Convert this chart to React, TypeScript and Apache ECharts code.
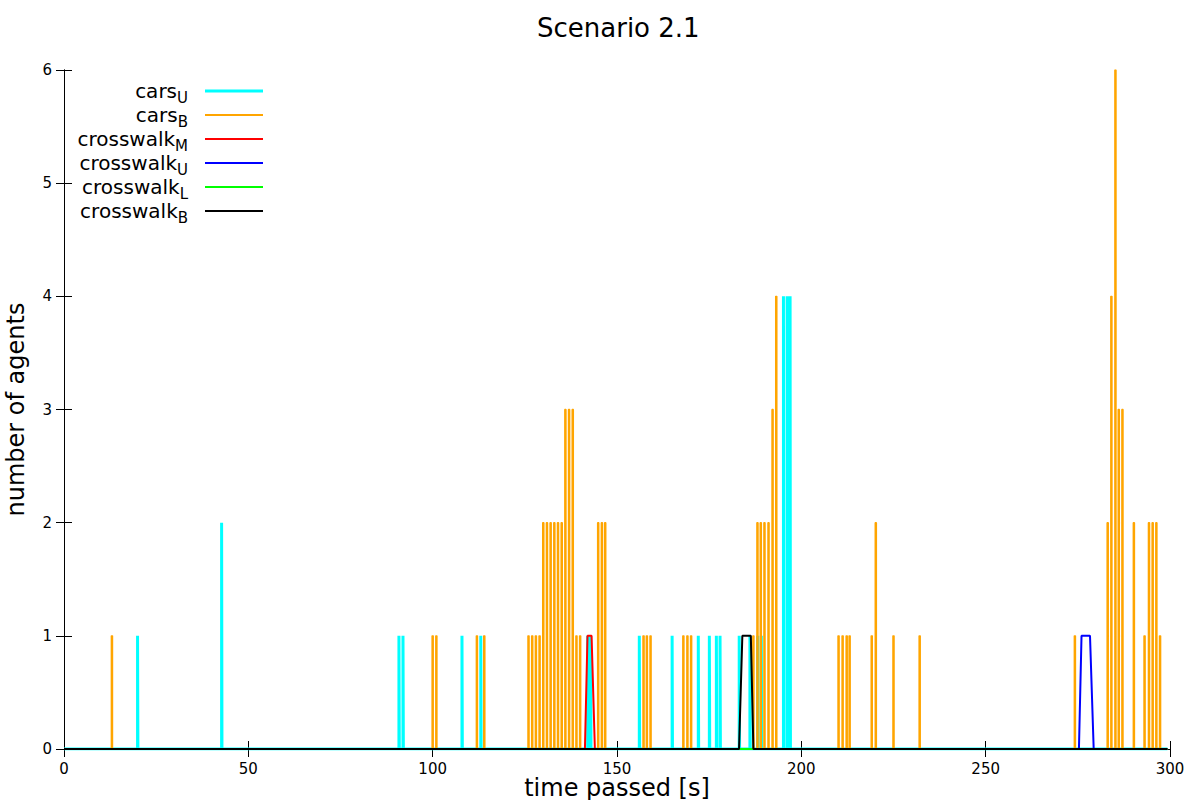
import React, { useEffect, useRef } from 'react';
import * as echarts from 'echarts';

// ---- data (time in seconds, number of agents) ----
const carsUTimes = [20, 42.8, 90.9, 92, 108, 113.1, 142.1, 142.9, 156.1, 165, 172.1, 175.1, 177, 178, 183.2, 186.1, 188.2, 189.2, 195.2, 196.2, 197.0];
const carsUValues = [1, 2, 1, 1, 1, 1, 1, 1, 1, 1, 1, 1, 1, 1, 1, 1, 1, 1, 4, 4, 4];

const carsBTimes = [13, 100, 101, 112, 114, 126, 127, 128, 129, 130, 131, 132, 133, 134, 135, 136, 137, 138, 139, 140, 144.9, 145.9, 146.8, 157.2, 158.1, 159.1, 168, 169.1, 170.1, 187, 188.1, 189, 190, 191.1, 192.2, 193.2, 210.1, 211.2, 212.3, 213.1, 219.1, 220.2, 225, 232.1, 274.2, 283.1, 284.1, 285.2, 286.1, 287.1, 290.2, 293.1, 294.3, 295.3, 296.3, 297.3];
const carsBValues = [1, 1, 1, 1, 1, 1, 1, 1, 1, 2, 2, 2, 2, 2, 2, 3, 3, 3, 1, 1, 2, 2, 2, 1, 1, 1, 1, 1, 1, 1, 2, 2, 2, 2, 3, 4, 1, 1, 1, 1, 1, 2, 1, 1, 1, 2, 4, 6, 3, 3, 2, 1, 2, 2, 2, 1];

const crosswalkMTimes = [141.3, 142, 143.1, 144];
const crosswalkMValues = [0, 1, 1, 0];
const crosswalkUTimes = [275.3, 276, 278.3, 279.3];
const crosswalkUValues = [0, 1, 1, 0];
const crosswalkLTimes: number[] = [];
const crosswalkLValues: number[] = [];
const crosswalkBTimes = [183.1, 184, 186.3, 187];
const crosswalkBValues = [0, 1, 1, 0];

const timeStart = 0;
const timeEnd = 299.3;

const xTicks = { min: 0, max: 300, interval: 50 };
const yTicks = { min: 0, max: 6, interval: 1 };

const seriesNames = ['carsU', 'carsB', 'crosswalkM', 'crosswalkU', 'crosswalkL', 'crosswalkB'];
const seriesBase = ['cars', 'cars', 'crosswalk', 'crosswalk', 'crosswalk', 'crosswalk'];
const seriesSub = ['U', 'B', 'M', 'U', 'L', 'B'];
const seriesColors = ['#00ffff', '#ffa500', '#ff0000', '#0000ff', '#00ff00', '#000000'];

const FONT = 'DejaVu Sans';

function spikes(times: number[], values: number[], half: number) {
  const pts: number[][] = [[timeStart, 0]];
  times.forEach((t, i) => {
    pts.push([t - half, 0], [t - half, values[i]], [t + half, values[i]], [t + half, 0]);
  });
  pts.push([timeEnd, 0]);
  return pts;
}

function profile(times: number[], values: number[]) {
  return [[timeStart, 0], ...times.map((t, i) => [t, values[i]]), [timeEnd, 0]];
}

export default function App() {
  const ref = useRef<HTMLDivElement>(null);
  useEffect(() => {
    if (!ref.current) return;
    const chart = echarts.init(ref.current, undefined, { renderer: 'svg' });
    const datasets = [
      spikes(carsUTimes, carsUValues, 0.05),
      spikes(carsBTimes, carsBValues, 0.17),
      profile(crosswalkMTimes, crosswalkMValues),
      profile(crosswalkUTimes, crosswalkUValues),
      profile(crosswalkLTimes, crosswalkLValues),
      profile(crosswalkBTimes, crosswalkBValues),
    ];
    const widths = [3, 1.3, 2, 2, 2, 2];
    const labelMap: Record<string, string> = {};
    seriesNames.forEach((n, i) => {
      labelMap[n] = `{m|${seriesBase[i]}}{s|${seriesSub[i]}}{g| }`;
    });
    const axisCommon = {
      axisLine: { show: true, lineStyle: { color: '#000', width: 1 } },
      axisTick: { show: true, inside: true, length: 8, lineStyle: { color: '#000', width: 1 } },
      splitLine: { show: false },
    };
    chart.setOption({
      animation: false,
      backgroundColor: '#ffffff',
      textStyle: { fontFamily: FONT },
      title: {
        text: 'Scenario 2.1',
        left: 537,
        top: 15,
        padding: 0,
        textStyle: { fontFamily: FONT, fontSize: 26, fontWeight: 'normal', color: '#000' },
      },
      grid: { left: 64, right: 30, top: 70, bottom: 51, containLabel: false, outerBoundsMode: 'none' },
      legend: {
        orient: 'vertical',
        right: 937,
        top: 81,
        padding: 0,
        align: 'right',
        itemWidth: 58,
        itemHeight: 14,
        itemGap: 0,
        selectedMode: false,
        symbolKeepAspect: true,
        data: seriesNames.map((n, i) => ({
          name: n,
          icon: i === 0 ? 'path://M0,0H58V3H0Z' : 'path://M0,0H58V2H0Z',
          itemStyle: { color: seriesColors[i] },
        })),
        formatter: (name: string) => labelMap[name],
        textStyle: {
          fontFamily: FONT,
          color: '#000',
          rich: {
            m: { fontSize: 20, fontFamily: FONT, color: '#000', lineHeight: 20, verticalAlign: 'top' },
            s: { fontSize: 15, fontFamily: FONT, color: '#000', lineHeight: 2, verticalAlign: 'top', padding: [9, 0, 0, 0] },
            g: { fontSize: 13, width: 12, lineHeight: 2 },
          },
        },
      },
      xAxis: [
        {
          type: 'value',
          position: 'bottom',
          ...xTicks,
          ...axisCommon,
          axisLabel: { fontSize: 15, color: '#000', margin: 12, fontFamily: FONT },
          name: 'time passed [s]',
          nameLocation: 'middle',
          nameGap: 27,
          nameMoveOverlap: false,
          nameTextStyle: { fontSize: 24, color: '#000', fontFamily: FONT },
        },
        {
          type: 'value',
          position: 'top',
          ...xTicks,
          ...axisCommon,
          axisLabel: { show: false },
        },
      ],
      yAxis: [
        {
          type: 'value',
          position: 'left',
          ...yTicks,
          ...axisCommon,
          axisLabel: { fontSize: 15, color: '#000', margin: 12, fontFamily: FONT },
          name: 'number of agents',
          nameLocation: 'middle',
          nameGap: 36,
          nameMoveOverlap: false,
          nameRotate: 90,
          nameTextStyle: { fontSize: 24, color: '#000', fontFamily: FONT },
        },
        {
          type: 'value',
          position: 'right',
          ...yTicks,
          ...axisCommon,
          axisLabel: { show: false },
        },
      ],
      series: seriesNames.map((n, i) => ({
        name: n,
        type: 'line',
        xAxisIndex: 0,
        yAxisIndex: 0,
        data: datasets[i],
        symbol: 'none',
        showSymbol: false,
        smooth: false,
        clip: true,
        lineStyle: { color: seriesColors[i], width: widths[i] },
        itemStyle: { color: seriesColors[i] },
        emphasis: { disabled: true },
        z: 2 + i,
      })),
    });
    return () => chart.dispose();
  }, []);
  return <div ref={ref} style={{ position: 'fixed', left: 0, top: 0, width: 1200, height: 800 }} />;
}
